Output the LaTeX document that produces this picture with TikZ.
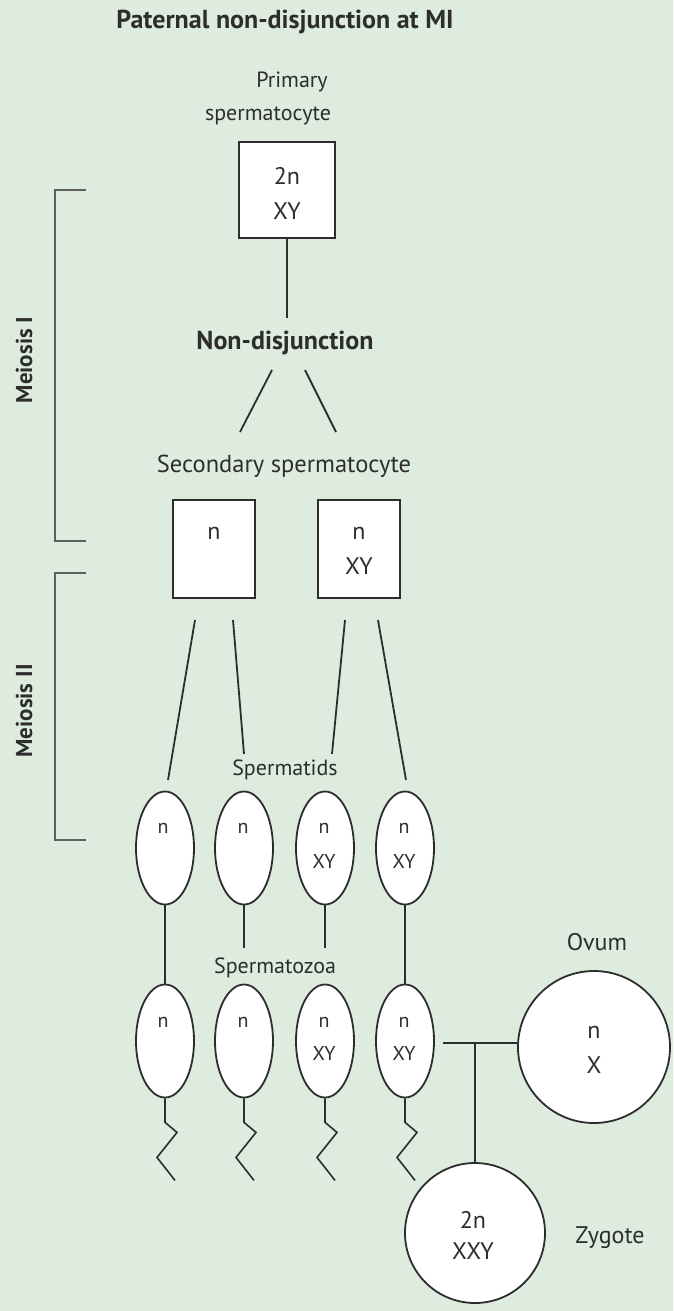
\documentclass[tikz,border=0pt]{standalone}
\usepackage{fontspec}
\setmainfont{PT Sans}
\usetikzlibrary{shapes.geometric,calc}
\begin{document}
\begin{tikzpicture}[x=1pt,y=-1pt,
  ln/.style={draw=lineC,line width=1.8pt},
  brk/.style={draw=brkC,line width=2.6pt},
  lbl/.style={text=txtC,font=\fontsize{22}{24}\selectfont,inner sep=0pt},
  ttl/.style={text=txtC,font=\fontsize{26}{28}\selectfont\bfseries,inner sep=0pt},
  inn/.style={text=txtC,font=\fontsize{24}{26}\selectfont,inner sep=0pt},
  inns/.style={text=txtC,font=\fontsize{20}{22}\selectfont,inner sep=0pt},
  cellbox/.style={draw=lineC,line width=1.8pt,fill=white,minimum width=#1,minimum height=#1,inner sep=0pt},
  sperm/.style={draw=lineC,line width=1.8pt,fill=white,ellipse,minimum width=58pt,minimum height=113pt,inner sep=0pt},
  circ/.style={draw=lineC,line width=1.8pt,fill=white,circle,minimum size=#1,inner sep=0pt}]
\definecolor{bgC}{RGB}{221,236,222}
\definecolor{lineC}{RGB}{45,45,45}
\definecolor{brkC}{RGB}{95,95,95}
\definecolor{txtC}{RGB}{45,45,45}
\fill[bgC] (0,0) rectangle (673,1311);
\useasboundingbox (0,0) rectangle (673,1311);

% title
\node[ttl] (title) at (285,22) {Paternal non-disjunction at MI};

% primary
\node[lbl] (prim1) at (292,82) {Primary};
\node[lbl] (prim2) at (268,116) {spermatocyte};
\node[cellbox=96pt] (p) at (287,190) {};
\node[inn] (pt1) at (287,176) {2n};
\node[inn] (pt2) at (287,211) {XY};

\node[ttl] (nd) at (285,343) {Non-disjunction};
\coordinate (ndtop) at (287,318);
\draw[ln] (p.south) -- (ndtop);
\coordinate (ndl) at (272,370);
\coordinate (ndr) at (305,370);
\coordinate (sl) at (240,432);
\coordinate (sr) at (336,432);
\draw[ln] (ndl) -- (sl);
\draw[ln] (ndr) -- (sr);

\node[lbl,font=\fontsize{24.5}{26}\selectfont] (sec) at (284,466) {Secondary spermatocyte};
\node[cellbox=82pt,minimum height=98pt] (s1) at (214,549) {};
\node[cellbox=82pt,minimum height=98pt] (s2) at (359,549) {};
\node[inn] (s1t) at (214,533) {n};
\node[inn] (s2t1) at (359,533) {n};
\node[inn] (s2t2) at (359,566) {XY};

% spermatids
\node[lbl] (tids) at (285,770) {Spermatids};
\foreach \i/\x in {1/165,2/244,3/325,4/405}{
  \node[sperm] (t\i) at (\x,848) {};
  \node[sperm] (z\i) at (\x,1041) {};
}
\node[inns] (t1n) at (163,828) {n};
\node[inns] (t2n) at (243,828) {n};
\node[inns] (t3n) at (324,828) {n};
\node[inns] (t3x) at (324,861) {XY};
\node[inns] (t4n) at (404,828) {n};
\node[inns] (t4x) at (404,861) {XY};

\coordinate (a1) at (195,620); \coordinate (b1) at (168,780);
\coordinate (a2) at (233,620); \coordinate (b2) at (244,754);
\coordinate (a3) at (345,620); \coordinate (b3) at (332,754);
\coordinate (a4) at (378,620); \coordinate (b4) at (406,780);
\foreach \i in {1,2,3,4}{\draw[ln] (a\i) -- (b\i);}

% spermatozoa
\node[lbl] (zoa) at (275,968) {Spermatozoa};
\draw[ln] (t1.south) -- (z1.north);
\draw[ln] (t4.south) -- (z4.north);
\coordinate (c2) at (244,948);
\coordinate (c3) at (325,948);
\draw[ln] (t2.south) -- (c2);
\draw[ln] (t3.south) -- (c3);
\node[inns] (z1n) at (163,1022) {n};
\node[inns] (z2n) at (243,1022) {n};
\node[inns] (z3n) at (324,1022) {n};
\node[inns] (z3x) at (324,1053) {XY};
\node[inns] (z4n) at (404,1022) {n};
\node[inns] (z4x) at (404,1053) {XY};

% tails
\foreach \i in {1,2,3,4}{
  \draw[draw=lineC,line width=1.6pt,line join=miter] (z\i.south) -- ++(0,24) -- ++(12,10) -- ++(-20,25) -- ++(18,23);
}

% ovum and zygote
\node[lbl,font=\fontsize{24}{26}\selectfont] (ovl) at (597,942) {Ovum};
\node[circ=152pt] (ov) at (594,1047) {};
\node[inn] (ovn) at (594,1032) {n};
\node[inn] (ovx) at (594,1065) {X};
\node[circ=140pt] (zy) at (475,1233) {};
\node[inn] (zyn) at (473,1220) {2n};
\node[inn] (zyx) at (473,1251) {XXY};
\node[lbl,font=\fontsize{24}{26}\selectfont] (zyl) at (610,1238) {Zygote};
\coordinate (tl) at (443,1043);
\coordinate (tm) at (475,1043);
\draw[ln] (tl) -- (ov.west|-tl);
\draw[ln] (tm) -- (zy.north);

% brackets
\coordinate (m1t) at (86,190); \coordinate (m1b) at (86,541);
\coordinate (m2t) at (86,573); \coordinate (m2b) at (86,840);
\draw[brk] (m1t) -- (55,190) -- (55,541) -- (m1b);
\draw[brk] (m2t) -- (55,573) -- (55,840) -- (m2b);
\node[ttl,rotate=90,font=\fontsize{23}{25}\selectfont\bfseries] (mI) at (24,360) {Meiosis I};
\node[ttl,rotate=90,font=\fontsize{23}{25}\selectfont\bfseries] (mII) at (24,711) {Meiosis II};
\end{tikzpicture}
\end{document}
